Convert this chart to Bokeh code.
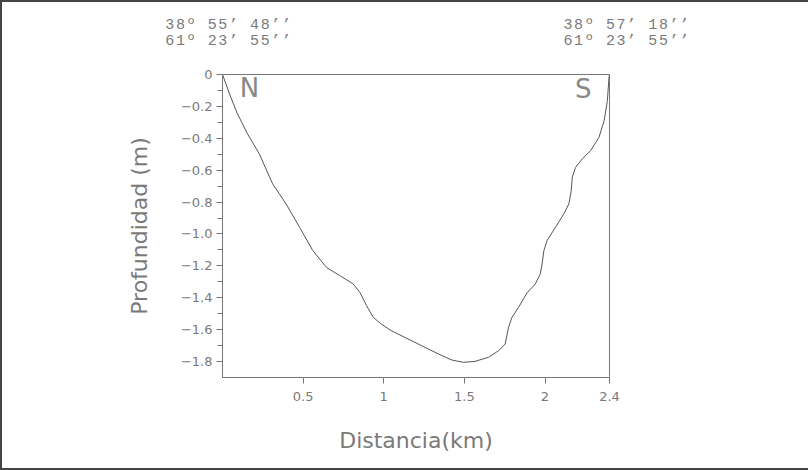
from bokeh.plotting import figure
from bokeh.layouts import column
from bokeh.models import Range1d, FixedTicker, Label, Div
from bokeh.embed import file_html
from bokeh.resources import INLINE

# Data (distance in km, depth in m)
dist = [0, 0.051, 0.093, 0.155, 0.228, 0.311, 0.394, 0.478, 0.56, 0.644, 0.727, 0.81,
        0.852, 0.893, 0.935, 0.985, 1.046, 1.13, 1.234, 1.338, 1.421, 1.494, 1.566, 1.65,
        1.712, 1.753, 1.774, 1.795, 1.836, 1.888, 1.94, 1.971, 1.982, 1.993, 2.013, 2.065,
        2.117, 2.148, 2.163, 2.169, 2.19, 2.231, 2.283, 2.335, 2.367, 2.387, 2.397, 2.4]
depth = [0, -0.142, -0.247, -0.372, -0.497, -0.686, -0.811, -0.958, -1.104, -1.209, -1.261,
         -1.313, -1.366, -1.449, -1.523, -1.565, -1.606, -1.648, -1.700, -1.752, -1.79,
         -1.805, -1.799, -1.773, -1.732, -1.69, -1.585, -1.523, -1.46, -1.37, -1.313, -1.25,
         -1.188, -1.104, -1.041, -0.958, -0.874, -0.811, -0.728, -0.644, -0.582, -0.529,
         -0.477, -0.393, -0.289, -0.163, -0.017, 0]

x_ticks = [0.5, 1, 1.5, 2, 2.4]
x_tick_labels = ["0.5", "1", "1.5", "2", "2.4"]
y_ticks = [0, -0.2, -0.4, -0.6, -0.8, -1.0, -1.2, -1.4, -1.6, -1.8]
y_tick_labels = ["0", "\u22120.2", "\u22120.4", "\u22120.6", "\u22120.8", "\u22121.0",
                 "\u22121.2", "\u22121.4", "\u22121.6", "\u22121.8"]
y_minor = [-0.1, -0.3, -0.5, -0.7, -0.9, -1.1, -1.3, -1.5, -1.7]

coord_left = ["38\u00ba 55\u2019 48\u2019\u2019", "61\u00ba 23\u2019 55\u2019\u2019"]
coord_right = ["38\u00ba 57\u2019 18\u2019\u2019", "61\u00ba 23\u2019 55\u2019\u2019"]
coord_x = [0.043, 2.512]      # centre of each coordinate block (km)
coord_y = [0.307, 0.207]      # line centres above the surface (m)

GRAY = "#7a7a7a"
FONT = "DejaVu Sans"

W = 806
HEAD_H = 64
TOP_PAD = 8
MAIN_H = 466 - HEAD_H
BL, BR, BB = 220, 199, 91
X0, X1 = 0, 2.4
Y0, Y1 = -1.9, 0

# ---------- main chart ----------
p = figure(width=W, height=MAIN_H, output_backend="svg", toolbar_location=None,
           x_range=Range1d(X0, X1), y_range=Range1d(Y0, Y1),
           min_border_left=BL, min_border_right=BR, min_border_top=TOP_PAD,
           min_border_bottom=BB)
p.grid.visible = False
p.outline_line_color = "#777777"
p.outline_line_width = 1
p.background_fill_color = "white"
p.border_fill_color = "white"

p.line(dist, depth, line_color="#555555", line_width=1)

for ax in (p.xaxis[0], p.yaxis[0]):
    ax.axis_line_color = "#777777"
    ax.major_tick_line_color = "#777777"
    ax.minor_tick_line_color = "#777777"
    ax.major_tick_out = 6
    ax.major_tick_in = 0
    ax.minor_tick_out = 5
    ax.minor_tick_in = 0
    ax.major_label_text_color = GRAY
    ax.major_label_text_font = FONT
    ax.major_label_text_font_size = "13px"
    ax.axis_label_text_color = GRAY
    ax.axis_label_text_font = FONT
    ax.axis_label_text_font_size = "22px"
    ax.axis_label_text_font_style = "normal"

p.xaxis.ticker = FixedTicker(ticks=x_ticks, minor_ticks=[])
p.xaxis.major_label_overrides = dict(zip(x_ticks, x_tick_labels))
p.xaxis.axis_label = "Distancia(km)"
p.xaxis.major_label_standoff = 8
p.xaxis.axis_label_standoff = 24

p.yaxis.ticker = FixedTicker(ticks=y_ticks, minor_ticks=y_minor)
p.yaxis.major_label_overrides = dict(zip(y_ticks, y_tick_labels))
p.yaxis.axis_label = "Profundidad (m)"
p.yaxis.major_label_standoff = 4
p.yaxis.axis_label_standoff = 26

# N / S markers
p.add_layout(Label(x=0.168, y=-0.082, text="N", text_align="center", text_baseline="middle",
                   text_color="#888888", text_font=FONT, text_font_size="26px"))
p.add_layout(Label(x=2.237, y=-0.088, text="S", text_align="center", text_baseline="middle",
                   text_color="#888888", text_font=FONT, text_font_size="26px"))

# ---------- header with the end coordinates, placed on the chart's own scale ----------
sx = (W - BL - BR) / (X1 - X0)
sy = (MAIN_H - TOP_PAD - BB) / (Y1 - Y0)
LINE_H = 17
blocks = []
for xc, lines in zip(coord_x, (coord_left, coord_right)):
    left_px = BL + (xc - X0) * sx
    for yc, txt in zip(coord_y, lines):
        top_px = (HEAD_H + TOP_PAD) - yc * sy - LINE_H / 2
        blocks.append(
            f'<div style="position:absolute;left:{left_px:.1f}px;top:{top_px:.1f}px;'
            f'transform:translateX(-50%);white-space:pre;">{txt}</div>')
head_html = ('<div style="position:relative;width:%dpx;height:%dpx;'
             "font-family:'Liberation Mono';font-size:15px;letter-spacing:1.6px;"
             'line-height:%dpx;color:%s;">' % (W, HEAD_H, LINE_H, GRAY)) + "".join(blocks) + "</div>"
head = Div(text=head_html, width=W, height=HEAD_H, margin=0)

layout = column(head, p, spacing=0)
layout.styles = {"border-top": "2px solid #444", "border-left": "2px solid #444",
                 "border-bottom": "2px solid #444", "background": "white"}

open("out.html", "w").write(file_html(layout, INLINE))
